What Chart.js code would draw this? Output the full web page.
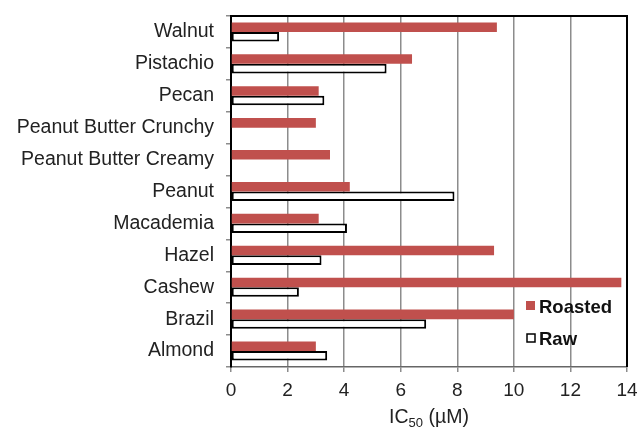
<!DOCTYPE html>
<html>
<head>
<meta charset="utf-8">
<script src="https://cdn.jsdelivr.net/npm/chart.js@4/dist/chart.umd.min.js"></script>
<style>
  html, body { margin: 0; padding: 0; background: #fff; }
  #wrap { width: 640px; height: 429px; }
</style>
</head>
<body>
<div id="wrap"><canvas id="chart1" width="640" height="429"></canvas></div>
<script>
// nuts, top to bottom as in the figure
const nuts = ['Walnut', 'Pistachio', 'Pecan', 'Peanut Butter Crunchy', 'Peanut Butter Creamy',
  'Peanut', 'Macademia', 'Hazel', 'Cashew', 'Brazil', 'Almond']
const roasted = [9.4, 6.4, 3.1, 3.0, 3.5, 4.2, 3.1, 9.3, 13.8, 10.0, 3.0]
const raw = [1.7, 5.5, 3.3, null, null, 7.9, 4.1, 3.2, 2.4, 6.9, 3.4]
const xTicks = [0, 2, 4, 6, 8, 10, 12, 14]

const RED = '#C0504D'
const FONT = 'Liberation Sans, Arial, sans-serif'

// frame, axis title with subscript, and the legend inside the plot
const extras = {
  id: 'extras',
  afterDraw(chart) {
    let { ctx, chartArea: a } = chart
    ctx.save()
    ctx.strokeStyle = '#000'
    ctx.lineWidth = 2
    ctx.beginPath()
    ctx.moveTo(a.left, a.top)
    ctx.lineTo(a.right, a.top)
    ctx.lineTo(a.right, a.bottom)
    ctx.stroke()

    // IC50 (µM)
    ctx.fillStyle = '#222'
    ctx.textBaseline = 'alphabetic'
    ctx.font = '19.5px ' + FONT
    let p1 = 'IC', p2 = '50', p3 = ' (µM)'
    let w1 = ctx.measureText(p1).width
    let w3 = ctx.measureText(p3).width
    ctx.font = '13px ' + FONT
    let w2 = ctx.measureText(p2).width
    let cx = (a.left + a.right) / 2
    let x = cx - (w1 + w2 + w3) / 2
    let y = 423
    ctx.font = '19.5px ' + FONT
    ctx.fillText(p1, x, y)
    ctx.font = '13px ' + FONT
    ctx.fillText(p2, x + w1, y + 4)
    ctx.font = '19.5px ' + FONT
    ctx.fillText(p3, x + w1 + w2, y)

    // legend
    ctx.font = 'bold 18.5px ' + FONT
    ctx.fillStyle = RED
    ctx.fillRect(526, 301, 9, 9)
    ctx.fillStyle = '#111'
    ctx.fillText('Roasted', 539, 313)
    ctx.strokeStyle = '#000'
    ctx.lineWidth = 1.5
    ctx.strokeRect(527, 334, 8, 8)
    ctx.fillText('Raw', 539, 345)
    ctx.restore()
  }
}

new Chart(document.getElementById('chart1').getContext('2d'), {
  type: 'bar',
  data: {
    labels: nuts,
    datasets: [{
      label: 'Roasted',
      data: roasted,
      backgroundColor: RED,
      borderWidth: 0,
      barPercentage: 1.0,
      categoryPercentage: 0.6
    }, {
      label: 'Raw',
      data: raw,
      backgroundColor: '#fff',
      borderColor: '#000',
      borderWidth: 2,
      borderSkipped: false,
      barPercentage: 1.0,
      categoryPercentage: 0.6
    }]
  },
  options: {
    indexAxis: 'y',
    responsive: false,
    animation: false,
    layout: { padding: { top: 16, right: 13, left: 0, bottom: 0 } },
    plugins: {
      legend: { display: false },
      tooltip: { enabled: false }
    },
    scales: {
      x: {
        min: 0,
        max: 14,
        afterBuildTicks: (s) => { s.ticks = xTicks.map(v => ({ value: v })) },
        afterFit: (s) => { s.height = 62; s.paddingLeft = 0; s.paddingRight = 0 },
        grid: { color: '#8c8c8c', lineWidth: 1.5, tickLength: 5, tickColor: '#8c8c8c' },
        border: { color: '#666', width: 1.5 },
        ticks: { color: '#222', font: { family: FONT, size: 19 }, padding: 7, maxRotation: 0 }
      },
      y: {
        afterFit: (s) => { s.width = 231; s.paddingTop = 0; s.paddingBottom = 0 },
        grid: { drawOnChartArea: false, color: '#8c8c8c', tickLength: 5, lineWidth: 1.5 },
        border: { color: '#000', width: 2 },
        ticks: { color: '#222', font: { family: FONT, size: 19.5 }, padding: 12, autoSkip: false }
      }
    }
  },
  plugins: [extras]
})
</script>
</body>
</html>
